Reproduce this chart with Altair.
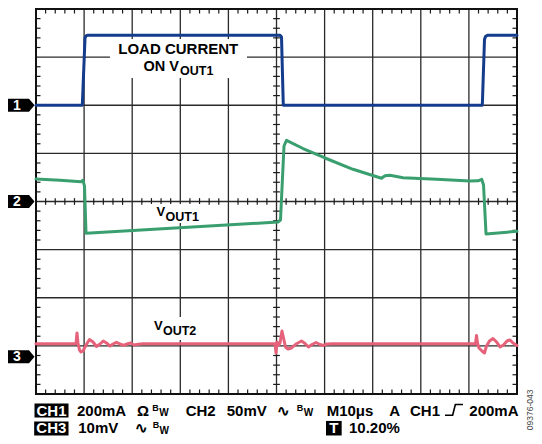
import altair as alt
import pandas as pd
import numpy as np

# Horizontal: time in microseconds (M10us -> 10 us per division, 10 divisions)
# Vertical: screen divisions (0 = bottom of graticule, 8 = top)
ch1_t = [0, 9.63, 10.19, 10.40, 10.71, 50.73, 51.04, 51.41, 92.79, 93.24, 93.45, 93.87, 100]
ch1_v = [6.0, 6.0, 7.40, 7.44, 7.455, 7.455, 7.42, 6.0, 6.0, 7.36, 7.43, 7.455, 7.455]

ch2_t = [0, 4.99, 9.36, 9.77, 10.08, 10.40, 50.31, 50.83, 51.56, 52.08, 55.51, 60.08,
         65.90, 71.83, 72.56, 73.60, 76.30, 83.30, 90.23, 91.89, 92.66, 93.04, 93.56, 100]
ch2_v = [4.467, 4.443, 4.411, 4.441, 4.322, 3.339, 3.574, 3.616, 5.153, 5.272, 5.101, 4.904,
         4.669, 4.482, 4.536, 4.544, 4.495, 4.461, 4.426, 4.430, 4.461, 4.343, 3.325, 3.381]

ch3_t = [0, 7.90, 8.32, 8.52, 8.73, 9.04, 9.36, 9.77, 10.40, 11.12, 11.85, 12.58, 13.31,
         13.99, 14.66, 15.38, 16.01, 16.74, 17.46, 18.19, 18.92, 19.65, 20.37, 21.21, 22.25,
         48.65, 49.69, 49.90, 50.10, 50.42, 50.73, 51.14, 51.46, 51.87, 52.39, 53.12, 54.05,
         55.20, 55.93, 56.65, 57.38, 58.21, 59.04, 59.77, 60.50, 61.54,
         90.23, 91.37, 91.58, 91.79, 92.10, 92.72, 93.24, 93.66, 94.28, 95.01, 95.74, 96.47,
         97.19, 97.92, 98.54, 99.17, 100]
ch3_v = [1.045, 1.045, 1.049, 1.268, 1.060, 0.914, 0.873, 0.894, 1.018, 1.132, 1.081, 0.987, 1.039,
         1.101, 1.060, 0.997, 1.039, 1.074, 1.039, 1.008, 1.039, 1.060, 1.018, 1.033, 1.045,
         1.045, 1.045, 0.852, 1.081, 1.018, 1.060, 1.309, 1.164, 0.977, 0.935, 0.956, 1.039,
         1.101, 1.049, 0.977, 1.029, 1.070, 1.029, 1.008, 1.039, 1.045,
         1.045, 1.045, 1.216, 1.060, 0.956, 0.894, 0.852, 0.997, 1.101, 1.153, 1.081, 0.977,
         1.018, 1.101, 1.122, 1.060, 1.008]

marker_labels = ["1", "2", "3"]
marker_levels = [6.0, 4.0, 0.775]

XS = alt.Scale(domain=[0, 100], nice=False, zero=False)
YS = alt.Scale(domain=[0, 8], nice=False, zero=False)
FONT = "Liberation Sans"


def X(f="x"):
    return alt.X(f"{f}:Q", scale=XS, axis=None)


def Y(f="y"):
    return alt.Y(f"{f}:Q", scale=YS, axis=None)


# graticule
grid_rows = [dict(x=t, x2=t, y=0, y2=8) for t in range(10, 100, 10)]
grid_rows += [dict(x=0, x2=100, y=v, y2=v) for v in range(1, 8)]
grid = alt.Chart(pd.DataFrame(grid_rows)).mark_rule(color="#2a2a2a", strokeWidth=1.3).encode(
    x=X(), x2="x2:Q", y=Y(), y2="y2:Q")

tk = 0.0935  # tick length in divisions
tick_rows = []
for t in np.arange(2, 100, 2):
    if int(round(t)) % 10 == 0:
        continue
    tick_rows.append(dict(x=t, x2=t, y=8, y2=8 - tk))
    tick_rows.append(dict(x=t, x2=t, y=0, y2=tk))
    tick_rows.append(dict(x=t, x2=t, y=4 - 0.07, y2=4 + 0.07))
for v in np.arange(0.2, 8, 0.2):
    if abs(v - round(v)) < 1e-6:
        continue
    tick_rows.append(dict(x=0, x2=tk * 10, y=v, y2=v))
    tick_rows.append(dict(x=100 - tk * 10, x2=100, y=v, y2=v))
    tick_rows.append(dict(x=50 - 0.7, x2=50 + 0.7, y=v, y2=v))
ticks = alt.Chart(pd.DataFrame(tick_rows)).mark_rule(color="#1a1a1a", strokeWidth=1.2).encode(
    x=X(), x2="x2:Q", y=Y(), y2="y2:Q")

border = alt.Chart(pd.DataFrame([dict(x=0, x2=100, y=0, y2=8)])).mark_rect(
    fillOpacity=0, stroke="#111", strokeWidth=2).encode(x=X(), x2="x2:Q", y=Y(), y2="y2:Q")

# white label backgrounds
bg = pd.DataFrame([
    dict(x=15.38, x2=43.87, y=7.376, y2=6.566),
    dict(x=23.7, x2=35.76, y=3.948, y2=3.553),
    dict(x=23.7, x2=35.55, y=1.600, y2=1.122),
])
bgs = alt.Chart(bg).mark_rect(color="white").encode(x=X(), x2="x2:Q", y=Y(), y2="y2:Q")


def trace(t, v, color):
    return alt.Chart(pd.DataFrame({"x": t, "y": v})).mark_line(
        color=color, strokeWidth=3, strokeJoin="round", strokeCap="round").encode(x=X(), y=Y())


tr1 = trace(ch1_t, ch1_v, "#143c8c")
tr2 = trace(ch2_t, ch2_v, "#3a9f6f")
tr3 = trace(ch3_t, ch3_v, "#e5627a")

# black boxes for inverse labels
boxes = pd.DataFrame([
    dict(x=-0.31, x2=6.76, y=-0.197, y2=-0.488),
    dict(x=-0.38, x2=6.76, y=-0.571, y2=-0.862),
    dict(x=60.29, x2=63.55, y=-0.560, y2=-0.862),
])
box_l = alt.Chart(boxes).mark_rect(color="black").encode(x=X(), x2="x2:Q", y=Y(), y2="y2:Q")

B1, B2 = -0.447, -0.804
FS = 15
left_txt = pd.DataFrame([
    ("ON V", 22.35, 6.722, 14.5), ("OUT1", 29.94, 6.629, 12.5),
    ("V", 25.05, 3.705, 13), ("OUT1", 26.93, 3.595, 12.5),
    ("V", 24.53, 1.330, 13), ("OUT2", 26.40, 1.226, 12.5),
    ("200mA", 8.52, B1, FS), ("Ω", 21.0, B1, FS), ("B", 24.19, -0.353, 9), ("W", 25.64, B1, 10),
    ("CH2", 31.12, B1, FS), ("50mV", 39.65, B1, FS), ("∿", 50.17, B1, FS),
    ("B", 54.2, -0.353, 9), ("W", 55.64, B1, 10), ("M10μs", 60.43, B1, FS),
    ("A", 73.45, B1, FS), ("CH1", 77.75, B1, FS), ("200mA", 90.08, B1, FS),
    ("10mV", 8.79, B2, FS), ("∿", 20.58, B2, FS), ("B", 24.26, -0.706, 9), ("W", 25.70, -0.825, 10),
    ("10.20%", 65.07, B2, FS),
], columns=["text", "x", "y", "size"])
lt = alt.Chart(left_txt).mark_text(align="left", baseline="alphabetic", font=FONT,
                                   fontWeight="bold", color="black").encode(
    x=X(), y=Y(), text="text:N", size=alt.Size("size:Q", scale=None))

center_txt = pd.DataFrame([
    ("LOAD CURRENT", 29.58, 7.065, "black", 15),
    ("CH1", 3.22, B1, "white", FS), ("CH3", 3.18, B2, "white", FS), ("T", 61.92, B2, "white", FS),
], columns=["text", "x", "y", "c", "size"])
ct = alt.Chart(center_txt).mark_text(align="center", baseline="alphabetic", font=FONT,
                                     fontWeight="bold").encode(
    x=X(), y=Y(), text="text:N", color=alt.Color("c:N", scale=None),
    size=alt.Size("size:Q", scale=None))

# channel ground markers
mk = pd.DataFrame({"x": -3.17, "y": marker_levels, "label": marker_labels, "tx": -3.95})
mshape = "M-1,-0.47 L0.6,-0.47 L1,0 L0.6,0.47 L-1,0.47 Z"
mk_l = alt.Chart(mk).mark_point(shape=mshape, filled=True, size=756, color="black", opacity=1).encode(
    x=X(), y=Y())
mk_t = alt.Chart(mk).mark_text(font=FONT, fontWeight="bold", fontSize=14, color="white",
                               baseline="middle", align="center", dy=0.5).encode(
    x=X("tx"), y=Y(), text="label:N")

# trigger edge symbol
trig = alt.Chart(pd.DataFrame({"x": [86.90], "y": [-0.33]})).mark_point(
    shape="M-1,0.6 L-0.15,0.6 L0.15,-0.6 L1,-0.6", filled=False, size=324,
    color="black", strokeWidth=1.6, opacity=1).encode(x=X(), y=Y())

fig_id = alt.Chart(pd.DataFrame({"x": [102.8], "y": [-0.33], "text": ["09376-043"]})).mark_text(
    angle=270, font=FONT, fontSize=8.5, color="#444", align="center", baseline="middle").encode(
    x=X(), y=Y(), text="text:N")

chart = alt.layer(grid, ticks, border, bgs, tr3, tr2, tr1, box_l, lt, ct, mk_l, mk_t, trig, fig_id).properties(
    width=481, height=385,
    padding={"left": 28, "top": 1, "right": 17, "bottom": 42},
    autosize=alt.AutoSizeParams(type="none"),
    background="white",
).configure_view(stroke=None)

chart.save("out.html", embed_options={"renderer": "svg", "actions": False})
